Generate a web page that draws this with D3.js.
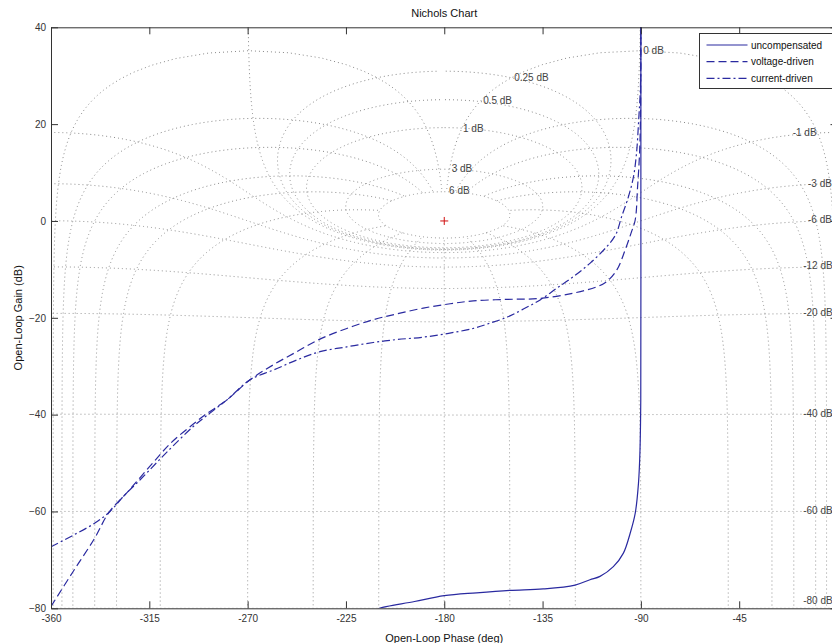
<!DOCTYPE html>
<html>
<head>
<meta charset="utf-8">
<script src="https://cdn.jsdelivr.net/npm/d3@7"></script>
<style>
  body { margin: 0; background: #fff; }
  text { font-family: "Liberation Sans", Arial, sans-serif; }
</style>
</head>
<body>
<svg id="chart" width="832" height="643"></svg>
<script>
// values
const phaseTicks = [-360, -315, -270, -225, -180, -135, -90, -45, 0];
const gainTicks = [40, 20, 0, -20, -40, -60, -80];

const uncompPhase = [-210.5, -209.7, -193.6, -180, -165.2, -150, -134.7, -120.1, -113.3, -108.7,
  -102.6, -98.0, -94.9, -92.6, -91.1, -90.4, -90.05, -90.0, -90.0];
const uncompGain = [-80.3, -80, -78.6, -77.4, -76.8, -76.3, -76.0, -75.2, -74.1, -73.4,
  -71.4, -68.6, -64.5, -60.4, -54.2, -47.3, -37, 0, 41];

const voltPhase = [-360, -350, -340, -333.5, -325, -315, -305, -295, -288.7, -279.6, -268.9,
  -258.2, -247.5, -236.9, -224.6, -212.5, -201.8, -189.6, -177.3, -166.7, -151.4, -136.1,
  -120.9, -110.2, -105.6, -101.0, -97.2, -94.5, -92.6, -91.5, -90.6, -90.2, -90.05, -90.0];
const voltGain = [-79.6, -72.5, -65.5, -60.2, -56, -50.8, -45.8, -42, -39.8, -37, -32.8,
  -29.7, -27.0, -24.4, -22.2, -20.4, -19.2, -18.0, -17.1, -16.5, -16.2, -16.0,
  -14.9, -13.6, -12.5, -10.1, -6.0, -2.5, 0.2, 7.1, 14.0, 20.9, 30, 41];

const currPhase = [-360, -349.8, -339.9, -333, -326.9, -319.3, -311.6, -304, -295, -288.7,
  -279.6, -268.9, -258.2, -247.5, -236.9, -224.6, -212.5, -201.8, -189.6, -178, -166.7,
  -159, -151.4, -143.8, -136.1, -128.5, -120.9, -113.2, -105.6, -101.5, -98.8, -95.7,
  -93.4, -92.0, -91.0, -90.2, -90.05, -90.0];
const currGain = [-67.3, -64.9, -62.4, -60, -56.9, -53.5, -49.9, -46.4, -42.5, -40.2,
  -37, -32.8, -30.8, -28.7, -27.0, -26.0, -25.1, -24.5, -24.0, -23.2, -22.2,
  -21.1, -19.9, -18.2, -16.3, -13.9, -11.5, -8.7, -5.3, -2.8, 0.9, 5.0,
  9.1, 14.0, 20.9, 27.7, 35, 41];

const seriesNames = ["uncompensated", "voltage-driven", "current-driven"];

// Nichols grid: closed-loop gains (dB) and closed-loop phases (deg)
const gridGains = [6, 3, 1, 0.5, 0.25, 0, -1, -3, -6, -12, -20, -40, -60, -80];
const gridPhases = [1, 5, 10, 20, 30, 50, 90, 120, 150, 180];
const gridLabelText = ["6 dB", "3 dB", "1 dB", "0.5 dB", "0.25 dB", "0 dB", "-1 dB", "-3 dB",
  "-6 dB", "-12 dB", "-20 dB", "-40 dB", "-60 dB", "-80 dB"];
const gridLabelPhase = [-177.8, -176.6, -171.4, -162.2, -148.0, -88.9, -20.5, -13.5,
  -13.5, -15.7, -15.7, -15.7, -15.7, -15.7];
const gridLabelGain = [6.2, 10.9, 19.2, 24.8, 29.7, 35.3, 18.2, 7.8,
  0.2, -9.3, -18.9, -39.7, -59.8, -78.3];

const svg = d3.select("#chart");
const pLeft = 51, pTop = 27.3, pRight = 837.5, pBottom = 608.3;

const x = d3.scaleLinear().domain([-360, 0]).range([pLeft, pRight]);
const y = d3.scaleLinear().domain([-80, 40]).range([pBottom, pTop]);

svg.append("defs").append("clipPath").attr("id", "plotclip")
  .append("rect")
  .attr("x", pLeft).attr("y", pTop)
  .attr("width", pRight - pLeft).attr("height", pBottom - pTop);

const plot = svg.append("g").attr("clip-path", "url(#plotclip)");

// ---- grid contours ----
function pushUnwrapped(arr, ph, g) {
  if (arr.length) {
    let prev = arr[arr.length - 1][0];
    while (ph - prev > 180) ph -= 360;
    while (ph - prev < -180) ph += 360;
  } else if (ph > 0) {
    ph -= 360;
  }
  arr.push([ph, g]);
}

// open loop G = T / (1 - T), T = m e^{j th}
function openLoop(m, thDeg) {
  let th = thDeg * Math.PI / 180;
  let tr = m * Math.cos(th), ti = m * Math.sin(th);
  let dr = 1 - tr, di = -ti;
  let den = dr * dr + di * di;
  let gr = (tr * dr + ti * di) / den;
  let gi = (ti * dr - tr * di) / den;
  return [Math.atan2(gi, gr) * 180 / Math.PI, 10 * Math.log10(gr * gr + gi * gi)];
}

function gainContour(db) {
  let m = Math.pow(10, db / 20);
  let pts = [];
  for (let th = -0.02; th > -359.99; th -= 0.1) {
    let [ph, g] = openLoop(m, th);
    pushUnwrapped(pts, ph, g);
  }
  return pts;
}

// phase lines run from low closed-loop gain up to the largest gain circle
const maxGridGain = d3.max(gridGains);
function phaseContour(p) {
  let pts = [];
  for (let db = -120; db <= maxGridGain + 1e-9; db += 0.05) {
    let [ph, g] = openLoop(Math.pow(10, db / 20), -p);
    pushUnwrapped(pts, ph, g);
  }
  return pts;
}

const gridLine = d3.line()
  .defined(d => isFinite(d[1]) && d[1] < 70 && d[1] > -110)
  .x(d => x(d[0]))
  .y(d => y(d[1]));

let contours = [];
gridGains.forEach(g => contours.push(gainContour(g)));
gridPhases.forEach(p => {
  let c = phaseContour(p);
  contours.push(c);
  if (p !== 180) contours.push(c.map(d => [-360 - d[0], d[1]]));
});

plot.selectAll("path.ngrid")
  .data(contours)
  .join("path")
  .attr("class", "ngrid")
  .attr("d", gridLine)
  .attr("fill", "none")
  .attr("stroke", "#888")
  .attr("stroke-width", 1)
  .attr("stroke-dasharray", "1,3");

// grid labels
plot.selectAll("text.glabel")
  .data(gridLabelText)
  .join("text")
  .attr("class", "glabel")
  .attr("x", (d, i) => x(gridLabelPhase[i]))
  .attr("y", (d, i) => y(gridLabelGain[i]))
  .attr("dy", "0.35em")
  .attr("font-size", 10)
  .attr("fill", "#444")
  .text(d => d);

// critical point marker
const cx = x(-180), cy = y(0);
plot.append("path")
  .attr("d", `M${cx - 4},${cy}H${cx + 4}M${cx},${cy - 4}V${cy + 4}`)
  .attr("stroke", "#d01010")
  .attr("stroke-width", 1);

// ---- response curves ----
const lineColor = "#2a2aa0";
const dashes = [null, "8,4", "8,3,2,3"];
const series = [
  d3.zip(uncompPhase, uncompGain),
  d3.zip(voltPhase, voltGain),
  d3.zip(currPhase, currGain)
];
const curveX = d3.line().x(d => x(d[0])).y(d => y(d[1])).curve(d3.curveCatmullRom);

plot.selectAll("path.resp")
  .data(series)
  .join("path")
  .attr("class", "resp")
  .attr("d", d => curveX(d))
  .attr("fill", "none")
  .attr("stroke", lineColor)
  .attr("stroke-width", 1.2)
  .attr("stroke-dasharray", (d, i) => dashes[i]);

// ---- axes ----
const axisColor = "#333";
const xAxis = svg.append("g").attr("transform", `translate(0,${pBottom})`)
  .call(d3.axisBottom(x).tickValues(phaseTicks).tickSize(-7).tickSizeOuter(0).tickPadding(7)
    .tickFormat(d => d === 0 ? "" : d));
const xTop = svg.append("g").attr("transform", `translate(0,${pTop})`)
  .call(d3.axisTop(x).tickValues(phaseTicks).tickSize(-7).tickSizeOuter(0).tickFormat(""));
const yAxis = svg.append("g").attr("transform", `translate(${pLeft},0)`)
  .call(d3.axisLeft(y).tickValues(gainTicks).tickSize(-7).tickSizeOuter(0).tickPadding(5));
const yRight = svg.append("g").attr("transform", `translate(${pRight},0)`)
  .call(d3.axisRight(y).tickValues(gainTicks).tickSize(-7).tickSizeOuter(0).tickFormat(""));

[xAxis, xTop, yAxis, yRight].forEach(a => {
  a.selectAll("path, line").attr("stroke", axisColor);
  a.selectAll("text").attr("fill", "#333").attr("font-size", 10)
    .attr("font-family", "'Liberation Sans', Arial, sans-serif");
});

// title and axis labels
svg.append("text")
  .attr("x", (pLeft + pRight) / 2).attr("y", 17)
  .attr("text-anchor", "middle").attr("font-size", 11).attr("fill", "#111")
  .text("Nichols Chart");
svg.append("text")
  .attr("x", (pLeft + pRight) / 2).attr("y", 642)
  .attr("text-anchor", "middle").attr("font-size", 11).attr("fill", "#111")
  .text("Open-Loop Phase (deg)");
svg.append("text")
  .attr("transform", `translate(22,${(pTop + pBottom) / 2}) rotate(-90)`)
  .attr("text-anchor", "middle").attr("font-size", 11).attr("fill", "#111")
  .text("Open-Loop Gain (dB)");

// ---- legend ----
const legend = svg.append("g").attr("transform", "translate(699.5,33.5)");
legend.append("rect")
  .attr("width", 136).attr("height", 55)
  .attr("fill", "#fff").attr("stroke", axisColor);
const legendY = d3.scalePoint().domain(seriesNames).range([11.5, 44.8]);
seriesNames.forEach((name, i) => {
  legend.append("line")
    .attr("x1", 7).attr("x2", 48)
    .attr("y1", legendY(name)).attr("y2", legendY(name))
    .attr("stroke", lineColor).attr("stroke-width", 1.2)
    .attr("stroke-dasharray", dashes[i]);
  legend.append("text")
    .attr("x", 51.5).attr("y", legendY(name)).attr("dy", "0.35em")
    .attr("font-size", 10).attr("fill", "#111")
    .text(name);
});
</script>
</body>
</html>
